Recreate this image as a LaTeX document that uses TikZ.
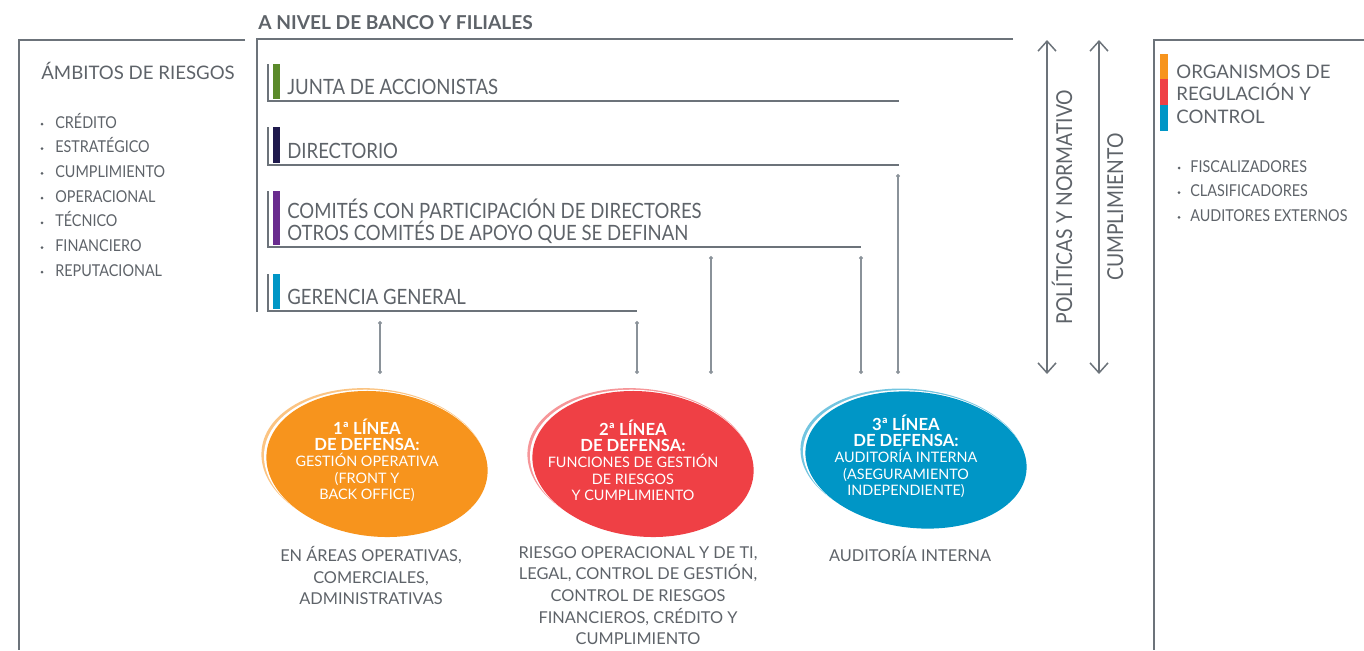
\documentclass[tikz,border=0pt]{standalone}
\usepackage{fontspec}
\setmainfont{Lato}
\newfontfamily\estrecha{Lato}[FakeStretch=0.88]
\usepackage{xcolor}
\usepackage{tikz}
\usetikzlibrary{arrows.meta}
\usetikzlibrary{shapes}
\usetikzlibrary{positioning}

\definecolor{gristxt}{HTML}{5E6369}
\definecolor{grislin}{HTML}{6C737A}
\definecolor{grisenl}{HTML}{8A9299}
\definecolor{naranja}{HTML}{F7941D}
\definecolor{rojo}{HTML}{EF4045}
\definecolor{celeste}{HTML}{0096C6}
\definecolor{verde}{HTML}{5B8A2A}
\definecolor{marino}{HTML}{1F1A4D}
\definecolor{morado}{HTML}{6A2C8F}

\begin{document}
\begin{tikzpicture}[
        x=0.02cm, y=-0.02cm,
        marco/.style={draw=grislin, line width=0.85pt},
        filalin/.style={draw=grislin, line width=0.7pt},
        enlace/.style={draw=grisenl, line width=0.6pt, {Circle[length=2.2pt]}-{Circle[length=2.2pt]}},
        doble/.style={draw=grislin, line width=0.85pt, {Straight Barb[length=2mm, width=3.6mm]}-{Straight Barb[length=2mm, width=3.6mm]}},
        titulo/.style={text=gristxt, inner sep=0pt, font=\fontsize{10.9}{13}\selectfont\bfseries},
        filatxt/.style={text=gristxt, inner sep=0pt, align=left, font=\estrecha\fontsize{12}{12.5}\selectfont},
        item/.style={text=gristxt, inner sep=0pt, font=\estrecha\fontsize{9.3}{11}\selectfont},
        cabeza/.style={text=gristxt, inner sep=0pt, align=left, font=\fontsize{10.6}{12.8}\selectfont},
        vertical/.style={text=gristxt, inner sep=0pt, rotate=90, font=\estrecha\fontsize{12.5}{14}\selectfont},
        elipse/.style={ellipse, draw=none, inner sep=0pt, rotate=-6},
        debajo/.style={text=gristxt, inner sep=0pt, align=center, font=\fontsize{9.3}{12.3}\selectfont}
    ]

    \useasboundingbox (0,0) rectangle (1364,650);

    %=== Marcos ===%
    \draw[marco] (245,40) -- (19,40) -- (19,650);
    \draw[marco] (1013,39) -- (257,39) -- (257,312);
    \draw[marco] (1364,40) -- (1154,40) -- (1154,650);

    \node[titulo, anchor=base west] (nivel) at (258,29) {A NIVEL DE BANCO Y FILIALES};

    %=== Ambitos de riesgos ===%
    \node[cabeza, anchor=base west] (ambitos) at (41,79) {ÁMBITOS DE RIESGOS};
    \foreach \t [count=\i] in {CRÉDITO, ESTRATÉGICO, CUMPLIMIENTO, OPERACIONAL, TÉCNICO, FINANCIERO, REPUTACIONAL} {
        \fill[gristxt] (42,{124+(\i-1)*24.7}) circle (1.5);
        \node[item, anchor=base west] (amb\i) at (55,{128+(\i-1)*24.7}) {\t};
    }

    %=== Filas del gobierno ===%
    \newcommand{\fila}[6]{
        \fill[#5] (273,#2) rectangle (280,#3);
        \draw[filalin] (268,#2) -- (268,#3+2) -- (#4,#3+2);
        \node[filatxt, anchor=base west] (#1) at (287,#3-5) {#6};
    }

    \fila{junta}{64}{99}{899}{verde}{JUNTA DE ACCIONISTAS}
    \fila{directorio}{127}{163}{899}{marino}{DIRECTORIO}
    \fila{comites}{191}{245}{861}{morado}{COMITÉS CON PARTICIPACIÓN DE DIRECTORES\\OTROS COMITÉS DE APOYO QUE SE DEFINAN}
    \fila{gerencia}{274}{309}{637}{celeste}{GERENCIA GENERAL}

    %=== Enlaces verticales ===%
    \coordinate (e1a) at (380,321);  \coordinate (e1b) at (380,374);
    \coordinate (e2a) at (637,321);  \coordinate (e2b) at (637,374);
    \coordinate (e3a) at (711,256);  \coordinate (e3b) at (711,374);
    \coordinate (e4a) at (861,256);  \coordinate (e4b) at (861,374);
    \coordinate (e5a) at (898,174);  \coordinate (e5b) at (898,374);
    \foreach \e in {1,...,5}
        \draw[enlace] (e\e a) -- (e\e b);

    %=== Politicas y cumplimiento ===%
    \coordinate (pol1) at (1047,40);  \coordinate (pol2) at (1047,374);
    \coordinate (cum1) at (1099,40);  \coordinate (cum2) at (1099,374);
    \draw[doble] (pol1) -- (pol2);
    \draw[doble] (cum1) -- (cum2);
    \node[vertical, anchor=base] (politicas) at (1072,207) {POLÍTICAS Y NORMATIVO};
    \node[vertical, anchor=base] (cumplimiento) at (1123,207) {CUMPLIMIENTO};

    %=== Organismos de regulacion ===%
    \fill[naranja] (1160,54) rectangle (1168,79);
    \fill[rojo] (1160,79) rectangle (1168,105);
    \fill[celeste] (1160,105) rectangle (1168,131);
    \node[cabeza, anchor=base west] (organismos) at (1176,123) {ORGANISMOS DE\\REGULACIÓN Y\\CONTROL};
    \foreach \t [count=\i] in {FISCALIZADORES, CLASIFICADORES, AUDITORES EXTERNOS} {
        \fill[gristxt] (1179,{168+(\i-1)*24.7}) circle (1.5);
        \node[item, anchor=base west] (org\i) at (1190,{172+(\i-1)*24.7}) {\t};
    }

    %=== Lineas de defensa ===%
    \newcommand{\defensa}[7]{
        \node[elipse, fill=#4!55, minimum width=4.52cm, minimum height=#5, xshift=-0.065cm, yshift=0.05cm] at (#2,#3) {};
        \node[elipse, fill=white, minimum width=4.48cm, minimum height=#5, xshift=-0.03cm, yshift=0.022cm] at (#2,#3) {};
        \node[elipse, fill=#4, minimum width=4.44cm, minimum height=#5] (#1) at (#2,#3) {};
        \node[text=white, align=center, inner sep=0pt, font=\fontsize{8.2}{9.3}\selectfont] at (#2-10,#3-4) {#6\\#7};
    }

    \defensa{primera}{377}{464}{naranja}{2.9cm}
        {{\fontsize{9.5}{9.3}\selectfont\bfseries 1ª LÍNEA}\\{\fontsize{9.5}{9.3}\selectfont\bfseries DE DEFENSA:}}
        {GESTIÓN OPERATIVA\\(FRONT Y\\BACK OFFICE)}
    \defensa{segunda}{643}{464}{rojo}{2.9cm}
        {{\fontsize{9.5}{9.3}\selectfont\bfseries 2ª LÍNEA}\\{\fontsize{9.5}{9.3}\selectfont\bfseries DE DEFENSA:}}
        {FUNCIONES DE GESTIÓN\\DE RIESGOS\\Y CUMPLIMIENTO}
    \defensa{tercera}{916}{460}{celeste}{2.72cm}
        {{\fontsize{9.5}{9.3}\selectfont\bfseries 3ª LÍNEA}\\{\fontsize{9.5}{9.3}\selectfont\bfseries DE DEFENSA:}}
        {AUDITORÍA INTERNA\\(ASEGURAMIENTO\\INDEPENDIENTE)}

    %=== Areas ===%
    \node[debajo, anchor=north] (areas1) at (371,546) {EN ÁREAS OPERATIVAS,\\COMERCIALES,\\ADMINISTRATIVAS};
    \node[debajo, anchor=north] (areas2) at (638,546) {RIESGO OPERACIONAL Y DE TI,\\LEGAL, CONTROL DE GESTIÓN,\\CONTROL DE RIESGOS\\FINANCIEROS, CRÉDITO Y\\CUMPLIMIENTO};
    \node[debajo, anchor=north] (areas3) at (910,546) {AUDITORÍA INTERNA};

\end{tikzpicture}
\end{document}
